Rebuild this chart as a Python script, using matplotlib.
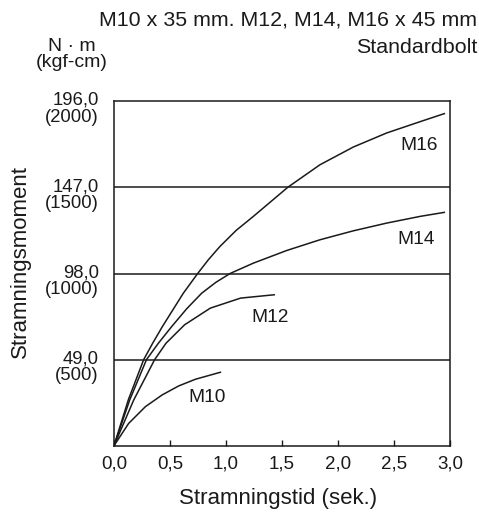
import matplotlib.pyplot as plt
from matplotlib.transforms import ScaledTranslation

plt.rcParams['font.family'] = ['Liberation Sans', 'DejaVu Sans']

# values (time in s, torque in N·m)
m16_t = [0, 0.13, 0.265, 0.345, 0.432, 0.619, 0.747, 0.842, 0.946, 1.09,
         1.244, 1.554, 1.839, 2.137, 2.435, 2.732, 2.949]
m16_v = [0, 26.5, 49, 58.3, 67.8, 86.8, 98, 105.8, 113.4, 122.5,
         130.5, 147.2, 159.9, 170, 178, 184.4, 189]
m14_t = [0, 0.14, 0.29, 0.396, 0.515, 0.65, 0.783, 0.91, 1.036, 1.244,
         1.542, 1.839, 2.137, 2.435, 2.732, 2.949]
m14_v = [0, 26, 49, 58.3, 67.8, 78, 86.8, 93, 98, 103.9,
         111.1, 117.2, 122.3, 126.7, 130.5, 132.8]
m12_t = [0, 0.176, 0.363, 0.464, 0.63, 0.86, 1.13, 1.43]
m12_v = [0, 26, 49, 58.3, 68.8, 78.3, 84, 85.9]
m10_t = [0, 0.131, 0.28, 0.43, 0.577, 0.726, 0.95]
m10_v = [0, 12.7, 22.2, 28.9, 34, 37.8, 41.8]

y_levels = [49.0, 98.0, 147.0, 196.0]
y_labels = ['49,0\n(500)', '98,0\n(1000)', '147,0\n(1500)', '196,0\n(2000)']
x_ticks = [0, 0.5, 1.0, 1.5, 2.0, 2.5, 3.0]
x_labels = ['0,0', '0,5', '1,0', '1,5', '2,0', '2,5', '3,0']

ink = '#1a1a1a'
fig = plt.figure(figsize=(4.79, 5.12), dpi=100)
ax = fig.add_axes([0.238, 0.1295, 0.7015, 0.6726])

for t, v in [(m16_t, m16_v), (m14_t, m14_v), (m12_t, m12_v), (m10_t, m10_v)]:
    ax.plot(t, v, color=ink, lw=1.1, solid_joinstyle='round')

for lv in y_levels[:-1]:
    ax.axhline(lv, color=ink, lw=1.1)

ax.set_xlim(0, 3.0)
ax.set_ylim(0, 196)
ax.set_xticks(x_ticks)
ax.set_xticklabels(x_labels, fontsize=13.5)
ax.tick_params(axis='x', direction='in', length=4, width=1, pad=7, colors=ink)
ax.set_yticks([])
for s in ax.spines.values():
    s.set_color(ink)
    s.set_linewidth(1.1)

# y labels: two lines, first line at the grid level
off = ScaledTranslation(-11 / 72, -5.5 / 72, fig.dpi_scale_trans)
ytr = ax.get_yaxis_transform() + off
for lv, lab in zip(y_levels, y_labels):
    ax.text(0, lv, lab, transform=ytr, ha='right', va='center',
            multialignment='right', fontsize=13.3, linespacing=1.0, color=ink)

for name, x, y in [('M16', 2.726, 171), ('M14', 2.70, 117.6),
                   ('M12', 1.393, 73.1), ('M10', 0.83, 27.6)]:
    ax.text(x, y, name, ha='center', va='center', fontsize=13.8, color=ink)

fig.text(0.58, 0.027, 'Stramningstid (sek.)', ha='center', va='center',
         fontsize=16, color=ink)
fig.text(0.042, 0.49, 'Stramningsmoment', rotation=90, ha='center', va='center',
         fontsize=16, color=ink)

fig.text(0.996, 0.95, 'M10 x 35 mm. M12, M14, M16 x 45 mm', ha='right',
         va='baseline', fontsize=15.4, color=ink)
fig.text(0.996, 0.897, 'Standardbolt', ha='right', va='baseline',
         fontsize=15.4, color=ink)
fig.text(0.15, 0.909, 'N · m', ha='center', va='center', fontsize=14, color=ink)
fig.text(0.15, 0.878, '(kgf-cm)', ha='center', va='center', fontsize=14, color=ink)

fig.savefig('out.png', dpi=100)
